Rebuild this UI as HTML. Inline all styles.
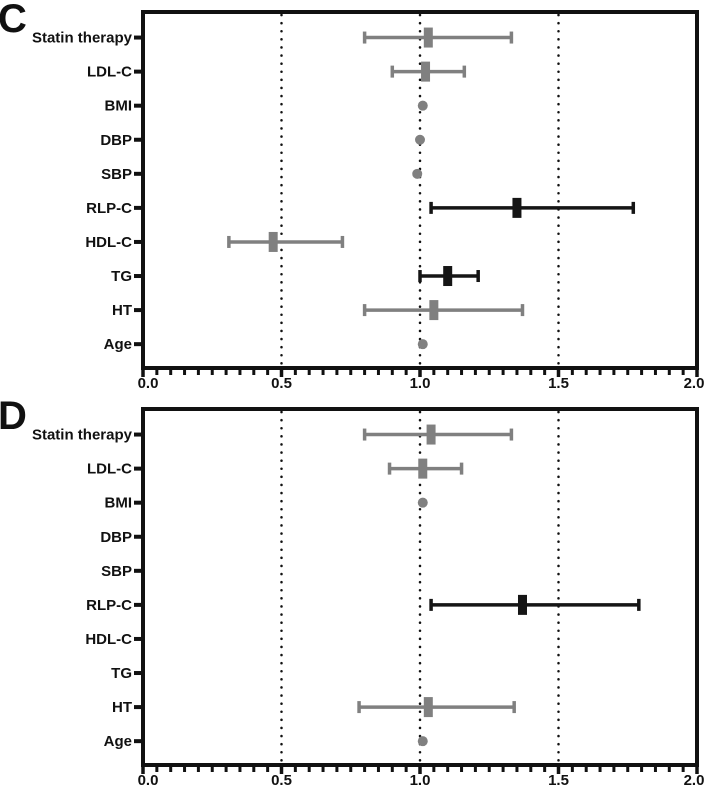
<!DOCTYPE html>
<html><head><meta charset="utf-8">
<style>
html,body{margin:0;padding:0;background:#fff;}
svg{display:block;font-family:"Liberation Sans",Arial,sans-serif;}
</style></head>
<body>
<svg id="chart" width="709" height="789" viewBox="0 0 709 789" xmlns="http://www.w3.org/2000/svg"></svg>
<script>
const categories = ["Statin therapy","LDL-C","BMI","DBP","SBP","RLP-C","HDL-C","TG","HT","Age"];
const tickLabels = ["0.0","0.5","1.0","1.5","2.0"];
const tickValues = [0,0.5,1.0,1.5,2.0];
// Panel C: [estimate, lower, upper, significant(1=black)]
const cEst = [1.03,1.02,1.01,1.00,0.99,1.35,0.47,1.10,1.05,1.01];
const cLo  = [0.80,0.90,null,null,null,1.04,0.31,1.00,0.80,null];
const cHi  = [1.33,1.16,null,null,null,1.77,0.72,1.21,1.37,null];
const cSig = [0,0,0,0,0,1,0,1,0,0];
// Panel D
const dEst = [1.04,1.01,1.01,null,null,1.37,null,null,1.03,1.01];
const dLo  = [0.80,0.89,null,null,null,1.04,null,null,0.78,null];
const dHi  = [1.33,1.15,null,null,null,1.79,null,null,1.34,null];
const dSig = [0,0,0,0,0,1,0,0,0,0];

const svg = document.getElementById('chart');
const NS = "http://www.w3.org/2000/svg";
function el(tag, attrs, parent){const e=document.createElementNS(NS,tag);for(const k in attrs)e.setAttribute(k,attrs[k]);(parent||svg).appendChild(e);return e;}
const X0=143, X1=697;
function xs(v){return X0+(v/2)*(X1-X0);}

function panel(letter, top, bottom, est, lo, hi, sig, pname){
  const g=el('g',{});
  
  
  const rowStep=(bottom-top)/10.45;
  function ys(i){return top+rowStep*(i+0.75);}
  const lt=el('text',{x:-2,y:top+20,'font-size':40,'font-weight':'bold',fill:'#111'},g);
  lt.textContent=letter;
  
  
  [0.5,1.0,1.5].forEach(v=>{
    const l=el('line',{x1:xs(v),x2:xs(v),y1:top+3,y2:bottom-2,stroke:'#111','stroke-width':2.5,'stroke-dasharray':'0.1 8','stroke-linecap':'round'},g);
    
    
  });
  const fr=el('rect',{x:X0,y:top,width:X1-X0,height:bottom-top,fill:'none',stroke:'#111','stroke-width':4},g);
  
  
  for(let i=0;i<=40;i++){
    const v=i*0.05, major=(i%10===0);
    const t=el('line',{x1:xs(v),x2:xs(v),y1:bottom,y2:bottom+(major?9:7),stroke:'#111','stroke-width':major?3.5:3},g);
    
    
  }
  tickValues.forEach((v,i)=>{
    const t=el('text',{x:xs(v)+(i===0?5:(i===4?-3:0)),y:bottom+20,'font-size':15,'font-weight':'bold','text-anchor':'middle',fill:'#111'},g);
    t.textContent=tickLabels[i];
    
    
  });
  categories.forEach((c,i)=>{
    const y=ys(i);
    const tk=el('line',{x1:X0-9,x2:X0,y1:y,y2:y,stroke:'#111','stroke-width':4},g);
    
    
    const t=el('text',{x:X0-11,y:y+5,'font-size':15,'font-weight':'bold','text-anchor':'end',fill:'#111'},g);
    t.textContent=c;
    
    
    if(est[i]==null) return;
    const col=sig[i]?'#151515':'#808080';
    if(lo[i]!=null){
      const eg=el('g',{},g);
      
      
      el('line',{x1:xs(lo[i]),x2:xs(hi[i]),y1:y,y2:y,stroke:col,'stroke-width':3.5},eg);
      el('line',{x1:xs(lo[i]),x2:xs(lo[i]),y1:y-6,y2:y+6,stroke:col,'stroke-width':3.5},eg);
      el('line',{x1:xs(hi[i]),x2:xs(hi[i]),y1:y-6,y2:y+6,stroke:col,'stroke-width':3.5},eg);
      const m=el('rect',{x:xs(est[i])-4.5,y:y-10,width:9,height:20,fill:col},g);
      
      
    } else {
      const m=el('circle',{cx:xs(est[i]),cy:y,r:5,fill:col},g);
      
      
    }
  });
}
panel('C',12,368,cEst,cLo,cHi,cSig,'panel-c');
panel('D',409,765,dEst,dLo,dHi,dSig,'panel-d');
</script>
</body></html>
